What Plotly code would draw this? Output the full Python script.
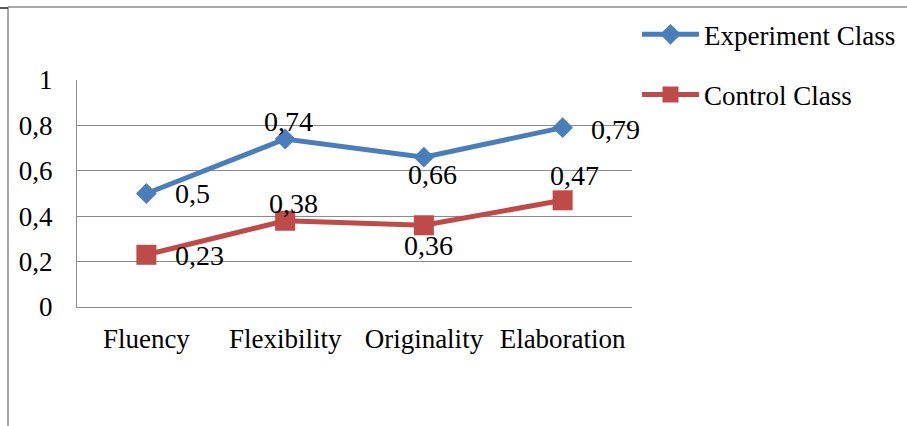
import plotly.graph_objects as go

categories = ["Fluency", "Flexibility", "Originality", "Elaboration"]
experiment = [0.5, 0.74, 0.66, 0.79]
control = [0.23, 0.38, 0.36, 0.47]
y_tick_vals = [0, 0.2, 0.4, 0.6, 0.8, 1]
y_tick_labels = ["0", "0,2", "0,4", "0,6", "0,8", "1"]

# label placement style (pixel offsets from each point)
exp_label_style = [("left", 27, 0), ("center", 3, 18), ("center", 9, -17), ("left", 26, -2)]
ctl_label_style = [("left", 27, -1), ("center", 8, 17), ("center", 5, -20), ("center", 12, 25)]

def fmt(v):
    return str(v).replace(".", ",")

FONT = "Liberation Serif"
BLUE = "#4A7EBB"
RED = "#BE4B48"
GRID = "#8C8C8C"

fig = go.Figure()
fig.add_trace(go.Scatter(
    x=categories, y=experiment, name="Experiment Class", legendgroup="a",
    mode="lines+markers",
    line=dict(color=BLUE, width=5),
    marker=dict(symbol="diamond", size=16, color=BLUE),
    cliponaxis=False,
))
fig.add_trace(go.Scatter(
    x=categories, y=control, name="Control Class", legendgroup="b",
    mode="lines+markers",
    line=dict(color=RED, width=5),
    marker=dict(symbol="square", size=20, color=RED),
    cliponaxis=False,
))

for vals, styles in ((experiment, exp_label_style), (control, ctl_label_style)):
    for cat, v, (anc, dx, dy) in zip(categories, vals, styles):
        fig.add_annotation(x=cat, y=v, text=fmt(v), showarrow=False,
                           xanchor=anc, yanchor="middle", xshift=dx, yshift=dy,
                           font=dict(family=FONT, size=28, color="black"))

# outer frame (chart border lines)
x0 = (8 - 77) / 555
y_top = (307 - 7) / 227
fig.add_shape(type="line", xref="paper", yref="paper", x0=x0, x1=(910 - 77) / 555,
              y0=y_top, y1=y_top, line=dict(color="#8C8C8C", width=1.5))
fig.add_shape(type="line", xref="paper", yref="paper", x0=x0, x1=x0,
              y0=y_top, y1=(307 - 430) / 227, line=dict(color="#8C8C8C", width=1.5))
fig.add_shape(type="line", xref="paper", yref="paper", x0=(0 - 77) / 555, x1=x0,
              y0=(307 - 8) / 227, y1=(307 - 8) / 227, line=dict(color="#222222", width=1.5))

fig.update_layout(
    width=907, height=426,
    margin=dict(l=77, r=275, t=80, b=119, autoexpand=False),
    paper_bgcolor="white", plot_bgcolor="white",
    font=dict(family=FONT, size=27, color="black"),
    showlegend=True,
    legend=dict(x=1.009, y=1.307, xanchor="left", yanchor="top",
                font=dict(family=FONT, size=27), tracegroupgap=22,
                itemwidth=57, bgcolor="rgba(0,0,0,0)"),
    xaxis=dict(type="category", range=[-0.5, 3.5], showgrid=False, automargin=False,
               showline=True, linecolor=GRID, linewidth=1, ticks="",
               ticklabelstandoff=8, tickfont=dict(family=FONT, size=27)),
    yaxis=dict(range=[0, 1], tickvals=y_tick_vals, ticktext=y_tick_labels, automargin=False,
               showgrid=True, gridcolor=GRID, gridwidth=1,
               showline=True, linecolor=GRID, linewidth=1, ticks="",
               zeroline=False, ticklabelstandoff=18,
               tickfont=dict(family=FONT, size=27)),
)
fig.write_html("out.html", config={"displayModeBar": False},
               post_script="document.body.style.margin='0';")
